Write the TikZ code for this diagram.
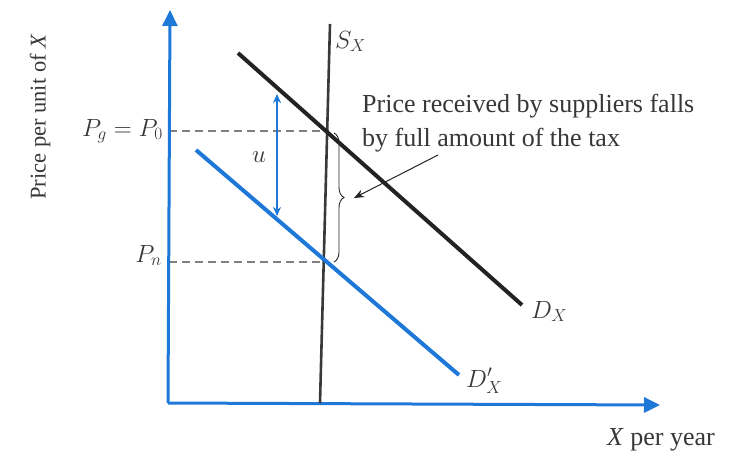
\documentclass[tikz,border=0pt]{standalone}
\usepackage{fontspec}
\setmainfont{Liberation Serif}
\usetikzlibrary{arrows.meta,decorations.pathreplacing}
\definecolor{axblue}{RGB}{30,120,215}
\definecolor{dkline}{RGB}{35,35,35}
\definecolor{txt}{RGB}{55,55,55}
\begin{document}
\begin{tikzpicture}[x=1pt,y=-1pt,
  lbl/.style={inner sep=0pt,text=txt,font=\fontsize{26}{34}\selectfont},
  axis/.style={axblue,line width=3pt,-{Triangle[length=16pt,width=15pt]}},
  demand/.style={dkline,line width=4pt},
  newdemand/.style={axblue,line width=4pt},
  guide/.style={gray,line width=1.3pt,dash pattern=on 8pt off 5pt}]
\useasboundingbox (0,0) rectangle (730,453);
% coordinates
\coordinate (O) at (168,403);
\coordinate (Ytop) at (170,10);
\coordinate (Xend) at (660,405);
\coordinate (Stop) at (330,24);
\coordinate (Sbot) at (320,403);
\coordinate (D1a) at (238,53);
\coordinate (D1b) at (522,305);
\coordinate (D2a) at (196,150);
\coordinate (D2b) at (459,375);
\coordinate (E0) at (329,131);
\coordinate (En) at (324,262);
\coordinate (Y0) at (169,131);
\coordinate (Yn) at (169,262);
\coordinate (Ua) at (277,94);
\coordinate (Ub) at (277,216);
\coordinate (Bt) at (334,133);
\coordinate (Bb) at (334,262);
\coordinate (Btip) at (354,198);
\coordinate (Astart) at (438,155);
% guides
\draw[guide] (Y0) -- (E0);
\draw[guide] (Yn) -- (En);
% axes
\draw[axis] (O) -- (Ytop);
\draw[axis] (O) -- (Xend);
% supply
\draw[dkline!90,line width=2.6pt] (Stop) -- (Sbot);
% demand curves
\draw[demand] (D1a) -- (D1b);
\draw[newdemand] (D2a) -- (D2b);
% u arrow
\draw[axblue,line width=1.5pt,{Stealth[length=9pt,width=8pt]}-{Stealth[length=9pt,width=8pt]}] (Ua) -- (Ub);
% brace
\draw[dkline,line width=0.9pt,decorate,decoration={brace,amplitude=10pt}] (Bt) -- (Bb);
\draw[dkline,line width=1pt,-{Stealth[length=10pt,width=8pt]}] (Astart) -- (Btip);
% labels
\node[lbl,rotate=90,font=\fontsize{22.5}{28}\selectfont] (ylab) at (40,117) {Price per unit of \textit{X}};
\node[lbl,anchor=base east] (pg) at (163,136) {$P_g = P_0$};
\node[lbl,anchor=base east] (pn) at (162,262) {$P_n$};
\node[lbl,anchor=base] (u) at (259,162) {$u$};
\node[lbl,anchor=base west] (sx) at (335,48) {$S_X$};
\node[lbl,anchor=base west,align=left] (note) at (362,146) {Price received by suppliers falls\\by full amount of the tax};
\node[lbl,anchor=base west] (dx) at (531,318) {$D_X$};
\node[lbl,anchor=base west] (dxp) at (466,387) {$D'_X$};
\node[lbl,anchor=base west] (xlab) at (607,445) {\textit{X} per year};
\end{tikzpicture}
\end{document}
